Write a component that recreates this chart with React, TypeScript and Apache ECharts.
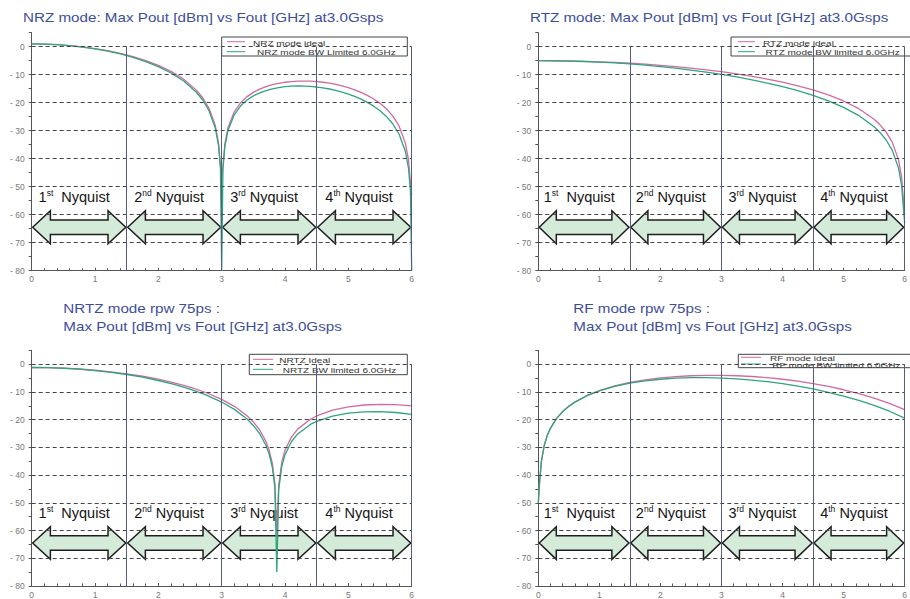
import React, { useEffect, useRef } from 'react';
import * as echarts from 'echarts';

// ---------- data ----------
const nrzFreq = [0, 0.2, 0.4, 0.6, 0.8, 1.0, 1.2, 1.4, 1.6, 1.8, 2.0, 2.2, 2.4, 2.6, 2.7, 2.8, 2.9, 2.95, 2.98, 3.0, 3.02, 3.05, 3.1, 3.2, 3.3, 3.4, 3.5, 3.6, 3.7, 3.8, 3.9, 4.0, 4.1, 4.2, 4.3, 4.4, 4.5, 4.6, 4.7, 4.8, 4.9, 5.0, 5.1, 5.2, 5.3, 5.4, 5.5, 5.6, 5.7, 5.8, 5.9, 5.95, 5.98, 6.0];
const nrzIdeal = [1.0, 0.94, 0.74, 0.42, -0.04, -0.65, -1.42, -2.37, -3.53, -4.94, -6.67, -8.83, -11.62, -15.51, -18.23, -21.99, -28.26, -34.42, -42.46, -48, -42.58, -34.71, -28.84, -23.15, -19.97, -17.84, -16.3, -15.14, -14.25, -13.58, -13.06, -12.69, -12.44, -12.3, -12.26, -12.32, -12.46, -12.7, -13.03, -13.46, -13.99, -14.63, -15.39, -16.3, -17.38, -18.66, -20.23, -22.18, -24.72, -28.31, -34.43, -40.51, -48.51, -53];
const nrzBw = [1.0, 0.94, 0.72, 0.38, -0.12, -0.77, -1.59, -2.6, -3.83, -5.31, -7.13, -9.38, -12.27, -16.26, -19.03, -22.85, -29.17, -35.37, -43.43, -80, -43.57, -35.71, -29.87, -24.24, -21.12, -19.05, -17.57, -16.48, -15.65, -15.04, -14.59, -14.29, -14.1, -14.03, -14.06, -14.19, -14.4, -14.71, -15.11, -15.61, -16.21, -16.92, -17.75, -18.73, -19.88, -21.24, -22.88, -24.9, -27.51, -31.18, -37.37, -43.5, -51.7, -80];

const rtzFreq = [0, 0.25, 0.5, 0.75, 1.0, 1.25, 1.5, 1.75, 2.0, 2.25, 2.5, 2.75, 3.0, 3.25, 3.5, 3.75, 4.0, 4.25, 4.5, 4.75, 5.0, 5.25, 5.5, 5.6, 5.7, 5.8, 5.9, 5.95, 6.0];
const rtzIdeal = [-5.0, -5.02, -5.1, -5.22, -5.4, -5.63, -5.91, -6.25, -6.65, -7.11, -7.64, -8.24, -8.92, -9.69, -10.56, -11.55, -12.67, -13.96, -15.45, -17.23, -19.38, -22.13, -25.93, -27.99, -30.61, -34.26, -40.42, -46.51, -60];
const rtzBw = [-5.0, -5.03, -5.13, -5.29, -5.52, -5.81, -6.17, -6.6, -7.11, -7.68, -8.34, -9.07, -9.89, -10.81, -11.83, -12.98, -14.27, -15.73, -17.39, -19.34, -21.67, -24.6, -28.58, -30.71, -33.4, -37.13, -43.36, -49.5, -63];

const nrtzFreq = [0, 0.25, 0.5, 0.75, 1.0, 1.25, 1.5, 1.75, 2.0, 2.25, 2.5, 2.75, 3.0, 3.2, 3.4, 3.5, 3.6, 3.7, 3.75, 3.8, 3.84, 3.87, 3.9, 3.95, 4.0, 4.1, 4.2, 4.4, 4.5, 4.75, 5.0, 5.25, 5.5, 5.75, 6.0];
const nrtzIdeal = [-1.21, -1.27, -1.45, -1.75, -2.19, -2.75, -3.47, -4.36, -5.43, -6.72, -8.3, -10.22, -12.69, -15.21, -18.59, -20.84, -23.75, -27.95, -31.06, -35.8, -43.13, -62, -43.72, -35.17, -31.04, -26.31, -23.43, -19.87, -18.68, -16.61, -15.38, -14.72, -14.48, -14.6, -15.07];
const nrtzBw = [-1.21, -1.28, -1.48, -1.82, -2.31, -2.94, -3.73, -4.71, -5.89, -7.29, -9.0, -11.05, -13.66, -16.3, -19.8, -22.11, -25.09, -29.35, -32.49, -37.26, -44.62, -75, -45.25, -36.73, -32.64, -27.97, -25.16, -21.74, -20.62, -18.72, -17.67, -17.19, -17.13, -17.43, -18.08];

const rfFreq = [0, 0.02, 0.05, 0.1, 0.15, 0.2, 0.3, 0.4, 0.5, 0.6, 0.8, 1.0, 1.25, 1.5, 1.75, 2.0, 2.25, 2.5, 2.75, 3.0, 3.25, 3.5, 3.75, 4.0, 4.25, 4.5, 4.75, 5.0, 5.25, 5.5, 5.75, 6.0];
const rfIdeal = [-50, -43.0, -35.06, -29.04, -25.52, -23.04, -19.55, -17.08, -15.18, -13.65, -11.29, -9.52, -7.86, -6.61, -5.67, -4.98, -4.49, -4.18, -4.03, -4.03, -4.17, -4.45, -4.88, -5.44, -6.15, -7.01, -8.03, -9.23, -10.63, -12.25, -14.14, -16.43];
const rfBw = [-50, -43.0, -35.06, -29.04, -25.52, -23.04, -19.56, -17.1, -15.21, -13.69, -11.37, -9.64, -8.04, -6.87, -6.02, -5.44, -5.06, -4.88, -4.86, -5.0, -5.29, -5.72, -6.31, -7.04, -7.92, -8.95, -10.14, -11.52, -13.1, -14.9, -16.97, -19.44];

const panelTitles = [
  ['NRZ mode: Max Pout [dBm] vs Fout [GHz] at3.0Gsps'],
  ['RTZ mode: Max Pout [dBm] vs Fout [GHz] at3.0Gsps'],
  ['NRTZ mode rpw 75ps :', 'Max Pout [dBm] vs Fout [GHz] at3.0Gsps'],
  ['RF mode rpw 75ps :', 'Max Pout [dBm] vs Fout [GHz] at3.0Gsps'],
];
const legendNames = [
  ['NRZ mode ideal', 'NRZ mode BW Limited 6.0GHz'],
  ['RTZ mode ideal', 'RTZ mode BW limited 6.0GHz'],
  ['NRTZ Ideal', 'NRTZ BW limited 6.0GHz'],
  ['RF mode ideal', 'RF mode BW limited 6.0GHz'],
];
const gridLevels = [0, -10, -20, -30, -40, -50, -60, -70];
const zoneStart = [0, 1.5, 3, 4.5];
const zoneEnd = [1.5, 3, 4.5, 6];
const zoneBounds = [1.5, 3, 4.5, 6];
const zoneOrdinal = ['1', '2', '3', '4'];
const zoneSuffix = ['st', 'nd', 'rd', 'th'];

const panels = [
  { freq: nrzFreq, ideal: nrzIdeal, bw: nrzBw },
  { freq: rtzFreq, ideal: rtzIdeal, bw: rtzBw },
  { freq: nrtzFreq, ideal: nrtzIdeal, bw: nrtzBw },
  { freq: rfFreq, ideal: rfIdeal, bw: rfBw },
];

// ---------- layout & style ----------
const FONT = '"Liberation Sans", Arial, Helvetica, sans-serif';
const PINK = '#d06aa5';
const GREEN = '#2fa57c';
const TITLE_COLOR = '#3d4e9b';
const ZONE_COLOR = '#565b86';
const gridBoxes = [
  { left: 31.7, top: 32.7, width: 380, height: 238 },
  { left: 538.3, top: 32.7, width: 380, height: 238 },
  { left: 31.7, top: 350.3, width: 380, height: 238.7 },
  { left: 538.3, top: 350.3, width: 380, height: 238.7 },
];
const titlePos = [
  { x: 23, y: [17.8] },
  { x: 530, y: [17.8] },
  { x: 63.3, y: [308, 326.6] },
  { x: 573.3, y: [308, 326.6] },
];
const legendBoxes = [
  { x: 221.7, y: 37, w: 185.6, h: 19, lx: [227, 245], ly: [41.7, 51.7], tx: [253, 257], ty: [43.2, 52.8] },
  { x: 731, y: 37, w: 220, h: 19, lx: [738, 755], ly: [41.7, 51.7], tx: [763, 765.5], ty: [43.2, 52.8] },
  { x: 249.3, y: 354.3, w: 158, h: 20.4, lx: [253, 273], ly: [359.3, 369.3], tx: [279.3, 282.7], ty: [360.5, 370.6] },
  { x: 738.3, y: 354.3, w: 220, h: 13.4, lx: [741, 761], ly: [357.3, 364], tx: [770, 772.3], ty: [358.8, 365.6] },
];

const renderZone = (params: any, api: any) => {
  const s = api.value(0);
  const e = api.value(1);
  const idx = api.value(2);
  const a = s + 0.015;
  const b = e - 0.015;
  const cy = -64.5;
  const hh = 5.9;
  const bh = 2.6;
  const hl = 0.28;
  const pts = [
    [a, cy], [a + hl, cy + hh], [a + hl, cy + bh], [b - hl, cy + bh], [b - hl, cy + hh],
    [b, cy], [b - hl, cy - hh], [b - hl, cy - bh], [a + hl, cy - bh], [a + hl, cy - hh],
  ].map((p) => api.coord(p));
  const tc = api.coord([(s + e) / 2 - 0.08, -53.7]);
  const gap = idx === 0 ? '\u00a0\u00a0' : '\u00a0';
  return {
    type: 'group',
    children: [
      { type: 'polygon', shape: { points: pts }, style: { fill: '#d4ebda', stroke: '#1e1e1e', lineWidth: 1.5 } },
      {
        type: 'text',
        x: tc[0],
        y: tc[1],
        style: {
          text: `{n|${zoneOrdinal[idx]}}{s|${zoneSuffix[idx]}}{n|${gap}Nyquist}`,
          align: 'center',
          verticalAlign: 'middle',
          rich: {
            n: { fontSize: 14.5, fontFamily: FONT, fill: '#151515', lineHeight: 18 },
            s: { fontSize: 8.5, fontFamily: FONT, fill: '#151515', lineHeight: 10, verticalAlign: 'top' },
          },
        },
      },
    ],
  };
};

export default function App() {
  const ref = useRef<HTMLDivElement>(null);
  useEffect(() => {
    if (!ref.current) return;
    const chart = echarts.init(ref.current, undefined, { renderer: 'svg' });

    const grid = gridBoxes.map((g) => ({ ...g, containLabel: false }));
    const xAxis = gridBoxes.map((_, i) => ({
      type: 'value', gridIndex: i, min: 0, max: 6, interval: 1,
      axisLine: { show: true, onZero: false, lineStyle: { color: '#555', width: 1 } },
      axisTick: { show: true, inside: true, length: 3, lineStyle: { color: '#555' } },
      minorTick: { show: true, splitNumber: 5, length: 2.5, lineStyle: { color: '#555' } },
      axisLabel: { fontSize: 8.5, color: '#777', margin: 4, fontFamily: FONT },
      splitLine: { show: false },
    }));
    const yAxis = gridBoxes.map((_, i) => ({
      type: 'value', gridIndex: i, min: -80, max: 5, interval: 5,
      axisLine: { show: true, onZero: false, lineStyle: { color: '#555', width: 1 } },
      axisTick: { show: true, inside: false, length: 3, lineStyle: { color: '#555' } },
      axisLabel: {
        fontSize: 8.5, color: '#777', margin: 7, fontFamily: FONT,
        formatter: (v: number) => (v % 10 === 0 ? (v < 0 ? '- ' + -v : String(v)) : ''),
      },
      splitLine: { show: false },
    }));

    const series: any[] = [];
    panels.forEach((p, i) => {
      series.push({
        type: 'line', xAxisIndex: i, yAxisIndex: i, data: [], silent: true, z: 1,
        markLine: {
          silent: true, symbol: ['none', 'none'], label: { show: false }, animation: false,
          lineStyle: { type: [4, 3], color: '#444', width: 1 },
          data: gridLevels.map((v) => ({ yAxis: v })),
        },
      });
      series.push({
        type: 'line', xAxisIndex: i, yAxisIndex: i, data: [], silent: true, z: 1,
        markLine: {
          silent: true, symbol: ['none', 'none'], label: { show: false }, animation: false,
          lineStyle: { type: 'solid', color: ZONE_COLOR, width: 1 },
          data: zoneBounds.map((x) => [{ coord: [x, 0] }, { coord: [x, -80] }]),
        },
      });
      series.push({
        type: 'custom', xAxisIndex: i, yAxisIndex: i, z: 2, silent: true,
        renderItem: renderZone,
        data: zoneStart.map((s, k) => [s, zoneEnd[k], k]),
      });
      series.push({
        type: 'line', name: legendNames[i][0], xAxisIndex: i, yAxisIndex: i, z: 3,
        showSymbol: false, symbol: 'none', silent: true,
        lineStyle: { color: PINK, width: 1.3 },
        data: p.freq.map((f, k) => [f, p.ideal[k]]),
      });
      series.push({
        type: 'line', name: legendNames[i][1], xAxisIndex: i, yAxisIndex: i, z: 4,
        showSymbol: false, symbol: 'none', silent: true,
        lineStyle: { color: GREEN, width: 1.3 },
        data: p.freq.map((f, k) => [f, p.bw[k]]),
      });
    });

    const graphics: any[] = [];
    panelTitles.forEach((lines, i) => {
      lines.forEach((t, j) => {
        graphics.push({
          type: 'text', x: titlePos[i].x, y: titlePos[i].y[j], scaleX: 1.17, silent: true,
          style: { text: t, font: `13px ${FONT}`, fill: TITLE_COLOR, verticalAlign: 'middle', align: 'left' },
        });
      });
    });
    legendBoxes.forEach((b, i) => {
      graphics.push({
        type: 'rect', silent: true, shape: { x: b.x, y: b.y, width: b.w, height: b.h },
        style: { fill: '#fff', stroke: '#444', lineWidth: 1 },
      });
      [PINK, GREEN].forEach((c, j) => {
        graphics.push({
          type: 'line', silent: true, shape: { x1: b.lx[0], y1: b.ly[j], x2: b.lx[1], y2: b.ly[j] },
          style: { stroke: c, lineWidth: 1 },
        });
        graphics.push({
          type: 'text', silent: true, x: b.tx[j], y: b.ty[j], scaleX: 1.25,
          style: { text: legendNames[i][j], font: `8px ${FONT}`, fill: '#333', verticalAlign: 'middle', align: 'left' },
        });
      });
    });

    chart.setOption({
      animation: false,
      backgroundColor: '#ffffff',
      grid, xAxis, yAxis, series,
      graphic: { elements: graphics },
    });
    return () => chart.dispose();
  }, []);
  return (
    <div
      ref={ref}
      style={{ position: 'absolute', left: 0, top: 0, width: 910, height: 599, background: '#fff' }}
    />
  );
}
